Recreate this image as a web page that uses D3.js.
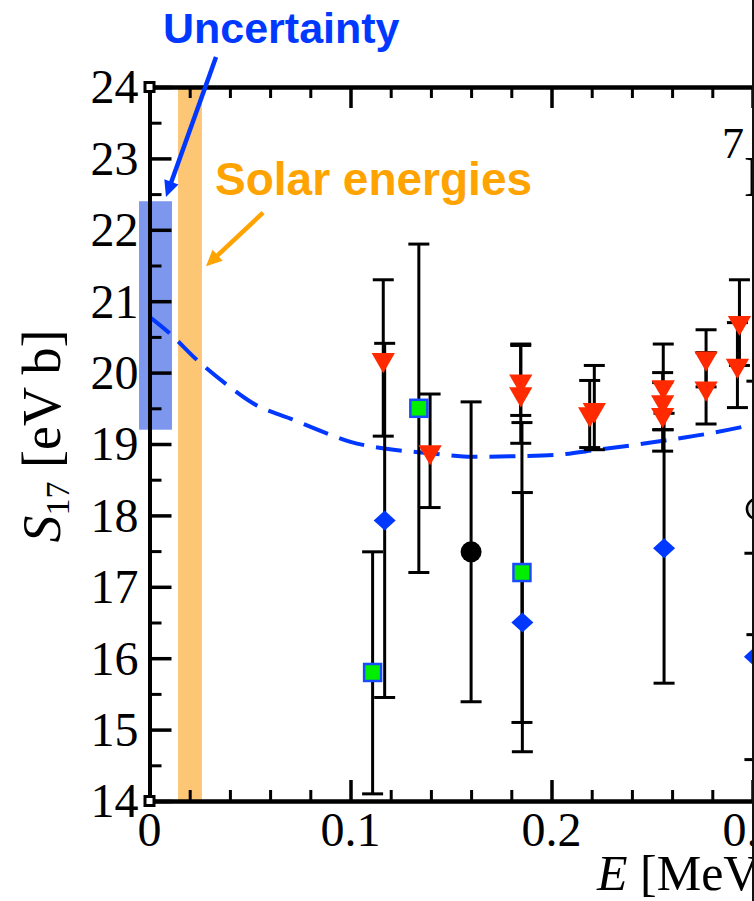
<!DOCTYPE html>
<html>
<head>
<meta charset="utf-8">
<script src="https://cdn.jsdelivr.net/npm/d3@7"></script>
<style>
  html, body { margin: 0; padding: 0; background: #fff; }
  svg { display: block; }
</style>
</head>
<body>
<svg id="chart" width="754" height="901"></svg>
<script>
// ---- data -------------------------------------------------------------
// Red down-triangles: energy, S17, lower and upper error limits
const triE  = [0.1163, 0.1396, 0.1847, 0.1847, 0.2190, 0.2213, 0.2556, 0.2553, 0.2553, 0.2769, 0.2769, 0.2935, 0.2925];
const triS  = [20.18, 18.89, 19.88, 19.70, 19.42, 19.48, 19.80, 19.59, 19.41, 20.20, 19.78, 20.70, 20.10];
const triLo = [19.11, 18.11, 19.40, 19.01, 18.95, 18.92, 19.20, 19.20, 18.90, 19.80, 19.28, 20.10, 19.51];
const triHi = [21.30, 19.70, 20.38, 20.40, 19.89, 20.10, 20.40, 20.00, 19.86, 20.60, 20.28, 21.30, 20.70];

// Green squares
const sqE  = [0.1110, 0.1340, 0.1853];
const sqS  = [15.80, 19.50, 17.20];
const sqLo = [14.10, 17.20, 15.10];
const sqHi = [17.49, 21.80, 19.30];

// Blue diamonds
const diaE  = [0.1170, 0.1855, 0.2560, 0.3012];
const diaS  = [17.93, 16.50, 17.54, 16.02];
const diaLo = [15.45, 14.69, 15.65, 14.58];
const diaHi = [20.41, 18.32, 19.43, 17.47];

// Black filled circle
const dotE  = [0.1600];
const dotS  = [17.49];
const dotLo = [15.39];
const dotHi = [19.59];

// Grey open circle
const ringE  = [0.3022];
const ringS  = [18.09];
const ringLo = [16.33];
const ringHi = [19.88];

// Theory curve (dashed)
const curveE = [0, 0.010, 0.0235, 0.0385, 0.0515, 0.0715, 0.090, 0.100, 0.116, 0.140, 0.161, 0.183, 0.203, 0.223, 0.242, 0.259, 0.279, 0.300, 0.320];
const curveS = [20.78, 20.55, 20.18, 19.83, 19.57, 19.34, 19.13, 19.03, 18.94, 18.87, 18.82, 18.83, 18.85, 18.92, 18.99, 19.06, 19.15, 19.27, 19.40];

// Shaded bands: [E0, E1, S0, S1]
const uncertaintyBand = [-0.0052, 0.0112, 19.2, 22.4];
const solarBand = [0.0142, 0.0261, 14, 24];

// Axis ticks
const xMajor = [0, 0.1, 0.2, 0.3];
const xLabels = ["0", "0.1", "0.2", "0.3"];
const xMinor = d3.range(0, 0.33, 0.02).filter(v => Math.abs(v * 10 - Math.round(v * 10)) > 1e-6);
const yMajor = [14, 15, 16, 17, 18, 19, 20, 21, 22, 23, 24];
const yMinor = d3.range(14.5, 24, 1);

// Annotations (data coordinates)
const uncText = {E: 0.0067, S: 24.62, text: "Uncertainty"};
const solText = {E: 0.0326, S: 22.49, text: "Solar energies"};
const uncArrow = {from: [0.0331, 24.42], to: [0.0082, 22.46]};
const solArrow = {from: [0.0565, 22.24], to: [0.0281, 21.49]};

// ---- scales ------------------------------------------------------------
const x = d3.scaleLinear().domain([0, 0.32]).range([149.5, 149.5 + 0.32 * 2010]);
const y = d3.scaleLinear().domain([14, 24]).range([801, 87]);

const svg = d3.select("#chart");
const BLUE = "#0038ff";
const ORANGE = "#ffa300";
const serif = "'Liberation Serif', 'Times New Roman', serif";
const sans = "'Liberation Sans', Arial, sans-serif";

// ---- bands -------------------------------------------------------------
function band(b, fill, op) {
  svg.append("rect")
    .attr("x", x(b[0])).attr("width", x(b[1]) - x(b[0]))
    .attr("y", y(b[3])).attr("height", y(b[2]) - y(b[3]))
    .attr("fill", fill).attr("opacity", op);
}
band(solarBand, "#fcc675", 1);
band(uncertaintyBand, "#7d97ef", 1);

// ---- theory curve ------------------------------------------------------
svg.append("clipPath").attr("id", "plotclip")
  .append("rect").attr("x", x(0)).attr("y", y(24)).attr("width", 800).attr("height", y(14) - y(24));

svg.append("path")
  .datum(d3.zip(curveE, curveS))
  .attr("clip-path", "url(#plotclip)")
  .attr("fill", "none")
  .attr("stroke", BLUE)
  .attr("stroke-width", 4)
  .attr("stroke-dasharray", "26 12")
  .attr("d", d3.line().x(d => x(d[0])).y(d => y(d[1])).curve(d3.curveMonotoneX));

// ---- axes --------------------------------------------------------------
function styleAxis(g, w) {
  g.selectAll("path.domain").attr("stroke", "#000").attr("stroke-width", 4);
  g.selectAll(".tick line").attr("stroke", "#000").attr("stroke-width", w);
  g.selectAll("text").remove();
}
// bottom
svg.append("g").attr("transform", `translate(0,${y(14)})`)
  .call(d3.axisBottom(x).tickValues(xMinor).tickSize(-11).tickSizeOuter(0))
  .call(g => styleAxis(g, 3));
svg.append("g").attr("transform", `translate(0,${y(14)})`)
  .call(d3.axisBottom(x).tickValues(xMajor).tickSize(-21).tickSizeOuter(0))
  .call(g => styleAxis(g, 3.5));
// top
svg.append("g").attr("transform", `translate(0,${y(24)})`)
  .call(d3.axisTop(x).tickValues(xMinor).tickSize(-11).tickSizeOuter(0))
  .call(g => styleAxis(g, 3));
svg.append("g").attr("transform", `translate(0,${y(24)})`)
  .call(d3.axisTop(x).tickValues(xMajor).tickSize(-21).tickSizeOuter(0))
  .call(g => styleAxis(g, 3.5));
// left
svg.append("g").attr("transform", `translate(${x(0)},0)`)
  .call(d3.axisLeft(y).tickValues(yMinor).tickSize(-12).tickSizeOuter(0))
  .call(g => styleAxis(g, 3));
svg.append("g").attr("transform", `translate(${x(0)},0)`)
  .call(d3.axisLeft(y).tickValues(yMajor).tickSize(-22).tickSizeOuter(0))
  .call(g => styleAxis(g, 3.5));

// corner markers
[[0, 24], [0, 14]].forEach(c => {
  svg.append("rect")
    .attr("x", x(c[0]) - 4.5).attr("y", y(c[1]) - 4.5)
    .attr("width", 9).attr("height", 9)
    .attr("fill", "#fff").attr("stroke", "#000").attr("stroke-width", 3);
});

// tick labels
svg.append("g").selectAll("text").data(yMajor).join("text")
  .attr("x", x(0) - 11).attr("y", d => y(d))
  .attr("dy", "0.34em")
  .attr("text-anchor", "end")
  .attr("font-family", serif).attr("font-size", 48)
  .text(d => d);
svg.append("g").selectAll("text").data(xMajor).join("text")
  .attr("x", d => x(d)).attr("y", y(14) + 45)
  .attr("text-anchor", "middle")
  .attr("font-family", serif).attr("font-size", 48)
  .text((d, i) => xLabels[i]);

// axis titles
const xt = svg.append("text")
  .attr("x", 597).attr("y", 890)
  .attr("font-family", serif).attr("font-size", 50);
xt.append("tspan").attr("font-style", "italic").text("E");
xt.append("tspan").text(" [MeV]");

const yt = svg.append("text")
  .attr("transform", `translate(60,436) rotate(-90)`)
  .attr("text-anchor", "middle")
  .attr("font-family", serif).attr("font-size", 54);
yt.append("tspan").attr("font-style", "italic").text("S");
yt.append("tspan").attr("font-size", 34).attr("dy", 9).text("17");
yt.append("tspan").attr("dy", -9).text(" [eV b]");

// reaction label (partially outside the frame)
const rl = svg.append("text").attr("x", 722).attr("y", 196)
  .attr("font-family", serif).attr("font-size", 58);
rl.append("tspan").attr("font-size", 44).attr("dy", -38).text("7");
rl.append("tspan").attr("dy", 38).text("Be");

// ---- error bars and markers ---------------------------------------------
const CAP = 10.5;
function errorBars(E, lo, hi) {
  const g = svg.append("g").attr("stroke", "#000").attr("stroke-width", 3);
  E.forEach((e, i) => {
    const cx = x(e);
    g.append("line").attr("x1", cx).attr("x2", cx).attr("y1", y(lo[i])).attr("y2", y(hi[i]));
    g.append("line").attr("x1", cx - CAP).attr("x2", cx + CAP).attr("y1", y(lo[i])).attr("y2", y(lo[i]));
    g.append("line").attr("x1", cx - CAP).attr("x2", cx + CAP).attr("y1", y(hi[i])).attr("y2", y(hi[i]));
  });
}
errorBars(sqE, sqLo, sqHi);
errorBars(diaE, diaLo, diaHi);
errorBars(dotE, dotLo, dotHi);
errorBars(ringE, ringLo, ringHi);
errorBars(triE, triLo, triHi);

// diamonds (wider than tall)
const diamond = (hw, hh) => `M${-hw},0L0,${-hh}L${hw},0L0,${hh}Z`;
svg.append("g").selectAll("path").data(d3.zip(diaE, diaS)).join("path")
  .attr("transform", d => `translate(${x(d[0])},${y(d[1])})`)
  .attr("d", diamond(11, 10))
  .attr("fill", BLUE);

// squares
svg.append("g").selectAll("rect").data(d3.zip(sqE, sqS)).join("rect")
  .attr("x", d => x(d[0]) - 8.5).attr("y", d => y(d[1]) - 8.5)
  .attr("width", 17).attr("height", 17)
  .attr("fill", "#00ee00").attr("stroke", "#1a4cff").attr("stroke-width", 2.5);

// filled circle
svg.append("g").selectAll("circle").data(d3.zip(dotE, dotS)).join("circle")
  .attr("cx", d => x(d[0])).attr("cy", d => y(d[1])).attr("r", 10.5)
  .attr("fill", "#000");

// open circle
svg.append("g").selectAll("circle").data(d3.zip(ringE, ringS)).join("circle")
  .attr("cx", d => x(d[0])).attr("cy", d => y(d[1])).attr("r", 10)
  .attr("fill", "#e0e0e0").attr("stroke", "#000").attr("stroke-width", 2.5);

// down triangles
const tri = d3.symbol().type(d3.symbolTriangle).size(235);
svg.append("g").selectAll("path").data(d3.zip(triE, triS)).join("path")
  .attr("transform", d => `translate(${x(d[0])},${y(d[1])}) rotate(180)`)
  .attr("d", tri)
  .attr("fill", "#ff2a00");

// ---- annotations -------------------------------------------------------
function arrow(a, color, width, headLen, headW) {
  const x0 = x(a.from[0]), y0 = y(a.from[1]);
  const x1 = x(a.to[0]), y1 = y(a.to[1]);
  const dx = x1 - x0, dy = y1 - y0, L = Math.hypot(dx, dy);
  const ux = dx / L, uy = dy / L;
  const bx = x1 - ux * headLen, by = y1 - uy * headLen;
  svg.append("line").attr("x1", x0).attr("y1", y0).attr("x2", bx + ux * 2).attr("y2", by + uy * 2)
    .attr("stroke", color).attr("stroke-width", width);
  svg.append("path")
    .attr("d", `M${x1},${y1}L${bx - uy * headW / 2},${by + ux * headW / 2}L${bx + uy * headW / 2},${by - ux * headW / 2}Z`)
    .attr("fill", color);
}
arrow(uncArrow, BLUE, 4.5, 16, 15);
arrow(solArrow, ORANGE, 4.5, 16, 15);

svg.append("text").attr("x", x(uncText.E)).attr("y", y(uncText.S))
  .attr("font-family", sans).attr("font-weight", "bold").attr("font-size", 43)
  .attr("fill", BLUE).text(uncText.text);
svg.append("text").attr("x", x(solText.E)).attr("y", y(solText.S))
  .attr("font-family", sans).attr("font-weight", "bold").attr("font-size", 46)
  .attr("fill", ORANGE).text(solText.text);

// right frame edge
svg.append("rect").attr("x", 752).attr("y", 0).attr("width", 2).attr("height", 901).attr("fill", "#111");
</script>
</body>
</html>
